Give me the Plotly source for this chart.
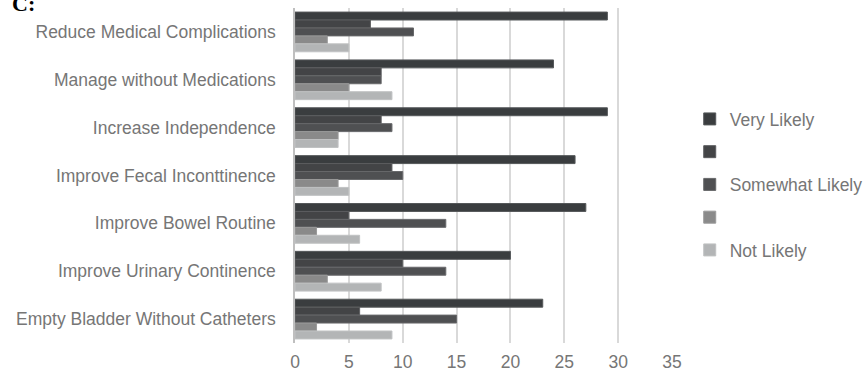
import plotly.graph_objects as go

categories = [
    "Reduce Medical Complications",
    "Manage without Medications",
    "Increase Independence",
    "Improve Fecal Inconttinence",
    "Improve Bowel Routine",
    "Improve Urinary Continence",
    "Empty Bladder Without Catheters",
]

series_names = ["Very Likely", " ", "Somewhat Likely", "  ", "Not Likely"]

very_likely = [29, 24, 29, 26, 27, 20, 23]
likely = [7, 8, 8, 9, 5, 10, 6]
somewhat_likely = [11, 8, 9, 10, 14, 14, 15]
slightly_likely = [3, 5, 4, 4, 2, 3, 2]
not_likely = [5, 9, 4, 5, 6, 8, 9]

x_ticks = [0, 5, 10, 15, 20, 25, 30, 35]

series_values = [very_likely, likely, somewhat_likely, slightly_likely, not_likely]
colors = ["#3a3d3f", "#434446", "#4f5052", "#8a8a8a", "#b3b5b6"]
edges = ["#55585a", "#5c5d5f", "#67686a", "#9a9a9a", "#c0c2c3"]

text_color = "#767676"

fig = go.Figure()
for i, (name, vals) in enumerate(zip(series_names, series_values)):
    fig.add_trace(go.Bar(
        y=categories, x=vals, name=name, orientation="h",
        marker=dict(color=colors[i], line=dict(color=edges[i], width=1)),
        legendgroup=f"g{i}",
    ))

fig.update_layout(
    width=864, height=376,
    margin=dict(l=295, r=192, t=8, b=33, autoexpand=False),
    paper_bgcolor="white", plot_bgcolor="white",
    barmode="group", bargap=0.17, bargroupgap=0,
    font=dict(family="Liberation Sans, Arial, sans-serif", size=17.5, color=text_color),
    xaxis=dict(
        range=[0, 35], tickvals=x_ticks, showgrid=True, gridcolor="#d9d9d9",
        gridwidth=1.5, zeroline=False, showline=False, ticks="",
        ticklabelstandoff=6, tickfont=dict(size=17.5, color=text_color),
    ),
    yaxis=dict(
        autorange="reversed", showline=True, linecolor="#bfbfbf", linewidth=1.5,
        ticks="", ticklabelstandoff=14, tickfont=dict(size=17.5, color=text_color),
    ),
    legend=dict(
        x=1.047, y=0.473, xanchor="left", yanchor="middle",
        tracegroupgap=7, itemwidth=30,
        font=dict(size=17.5, color=text_color),
        bgcolor="rgba(0,0,0,0)",
    ),
    annotations=[dict(
        text="<b>C:</b>", xref="paper", yref="paper", x=-0.755, y=1.012,
        xanchor="left", yanchor="middle", showarrow=False,
        font=dict(family="Liberation Serif, Times New Roman, serif", size=22, color="#000000"),
    )],
)

fig.write_html("out.html")
